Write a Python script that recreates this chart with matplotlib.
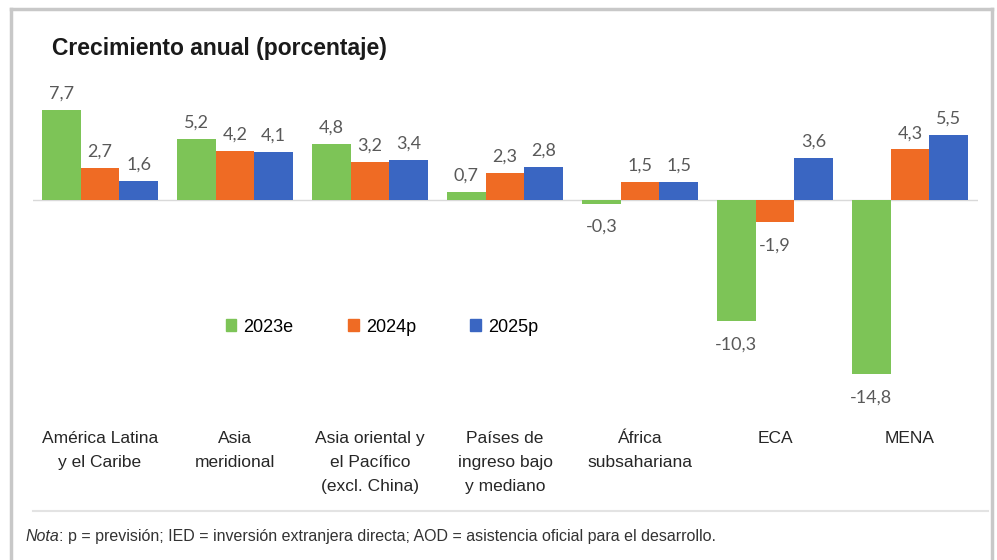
import numpy as np
import matplotlib
matplotlib.use("Agg")
import matplotlib.pyplot as plt
from matplotlib.patches import Patch
from matplotlib.lines import Line2D

regions = ["América Latina\ny el Caribe", "Asia\nmeridional", "Asia oriental y\nel Pacífico\n(excl. China)",
           "Países de\ningreso bajo\ny mediano", "África\nsubsahariana", "ECA", "MENA"]
series_names = ["2023e", "2024p", "2025p"]
vals_2023 = [7.7, 5.2, 4.8, 0.7, -0.3, -10.3, -14.8]
vals_2024 = [2.7, 4.2, 3.2, 2.3, 1.5, -1.9, 4.3]
vals_2025 = [1.6, 4.1, 3.4, 2.8, 1.5, 3.6, 5.5]
colors = ["#7dc457", "#ef6b24", "#3a66c2"]

W, H = 997, 560
fig = plt.figure(figsize=(W / 100, H / 100), dpi=100)
plt.rcParams['font.family'] = ['Liberation Sans', 'DejaVu Sans']

def fx(px):
    return px / W

def fy(py):
    return 1 - py / H

# frame
for seg in [((10.5, 10.5), (8.5, 560)), ((991.5, 991.5), (8.5, 560)), ((10.5, 991.5), (8.5, 8.5))]:
    fig.add_artist(Line2D([fx(p) for p in seg[0]], [fy(p) for p in seg[1]], color="#c8c8c8", lw=2.5))

# axes: baseline at y=200px, 11.75 px per unit
top_px, bot_px = 95, 400
scale = 11.75
ax = fig.add_axes([fx(32.5), fy(bot_px), fx(945), (bot_px - top_px) / H])
ax.set_xlim(-0.5, 6.5)
ax.set_ylim(-(bot_px - 200) / scale, (200 - top_px) / scale)

x = np.arange(len(regions))
w = 0.286
for i, (vals, c) in enumerate(zip([vals_2023, vals_2024, vals_2025], colors)):
    xs = x + (i - 1) * w
    ax.bar(xs, vals, width=w, color=c, zorder=2, label=series_names[i])
    for xi, v in zip(xs, vals):
        off = 6 if v >= 0 else -11
        ax.annotate(f"{v:.1f}".replace(".", ","), (xi, v), xytext=(0, off), textcoords="offset points",
                    ha="center", va="bottom" if v >= 0 else "top", fontsize=13,
                    color="#595959", family=["Lato", "DejaVu Sans"])

ax.axhline(0, color="#d9d9d9", lw=1, zorder=1)
for s in ax.spines.values():
    s.set_visible(False)
ax.set_yticks([])
ax.set_xticks(x)
ax.set_xticklabels(regions, fontsize=12.5, color="#262626", linespacing=1.75, va="top")
ax.tick_params(axis="x", length=0, pad=22)
ax.patch.set_alpha(0)

fig.text(fx(52), fy(48), "Crecimiento anual (porcentaje)", fontsize=16.5, fontweight="bold",
         color="#1a1a1a", ha="left", va="center")

handles = [Patch(color=c) for c in colors]
fig.legend(handles, series_names, loc="center", bbox_to_anchor=(fx(382), fy(327)), ncol=3,
           frameon=False, fontsize=13, handlelength=0.6, handleheight=0.6, handletextpad=0.4,
           columnspacing=3.0)

fig.add_artist(Line2D([fx(33), fx(988)], [fy(511), fy(511)], color="#e3e3e3", lw=1.5))

nota = fig.text(fx(25), fy(541), "Nota", fontsize=11.5, style="italic", color="#333333",
                ha="left", va="baseline")
ax.annotate(": p = previsión; IED = inversión extranjera directa; AOD = asistencia oficial para el desarrollo.",
            xy=(1, 0), xycoords=nota, xytext=(0.5, 0), textcoords="offset points",
            fontsize=11.5, color="#333333", ha="left", va="bottom", annotation_clip=False)

fig.savefig("out.png", dpi=100)
